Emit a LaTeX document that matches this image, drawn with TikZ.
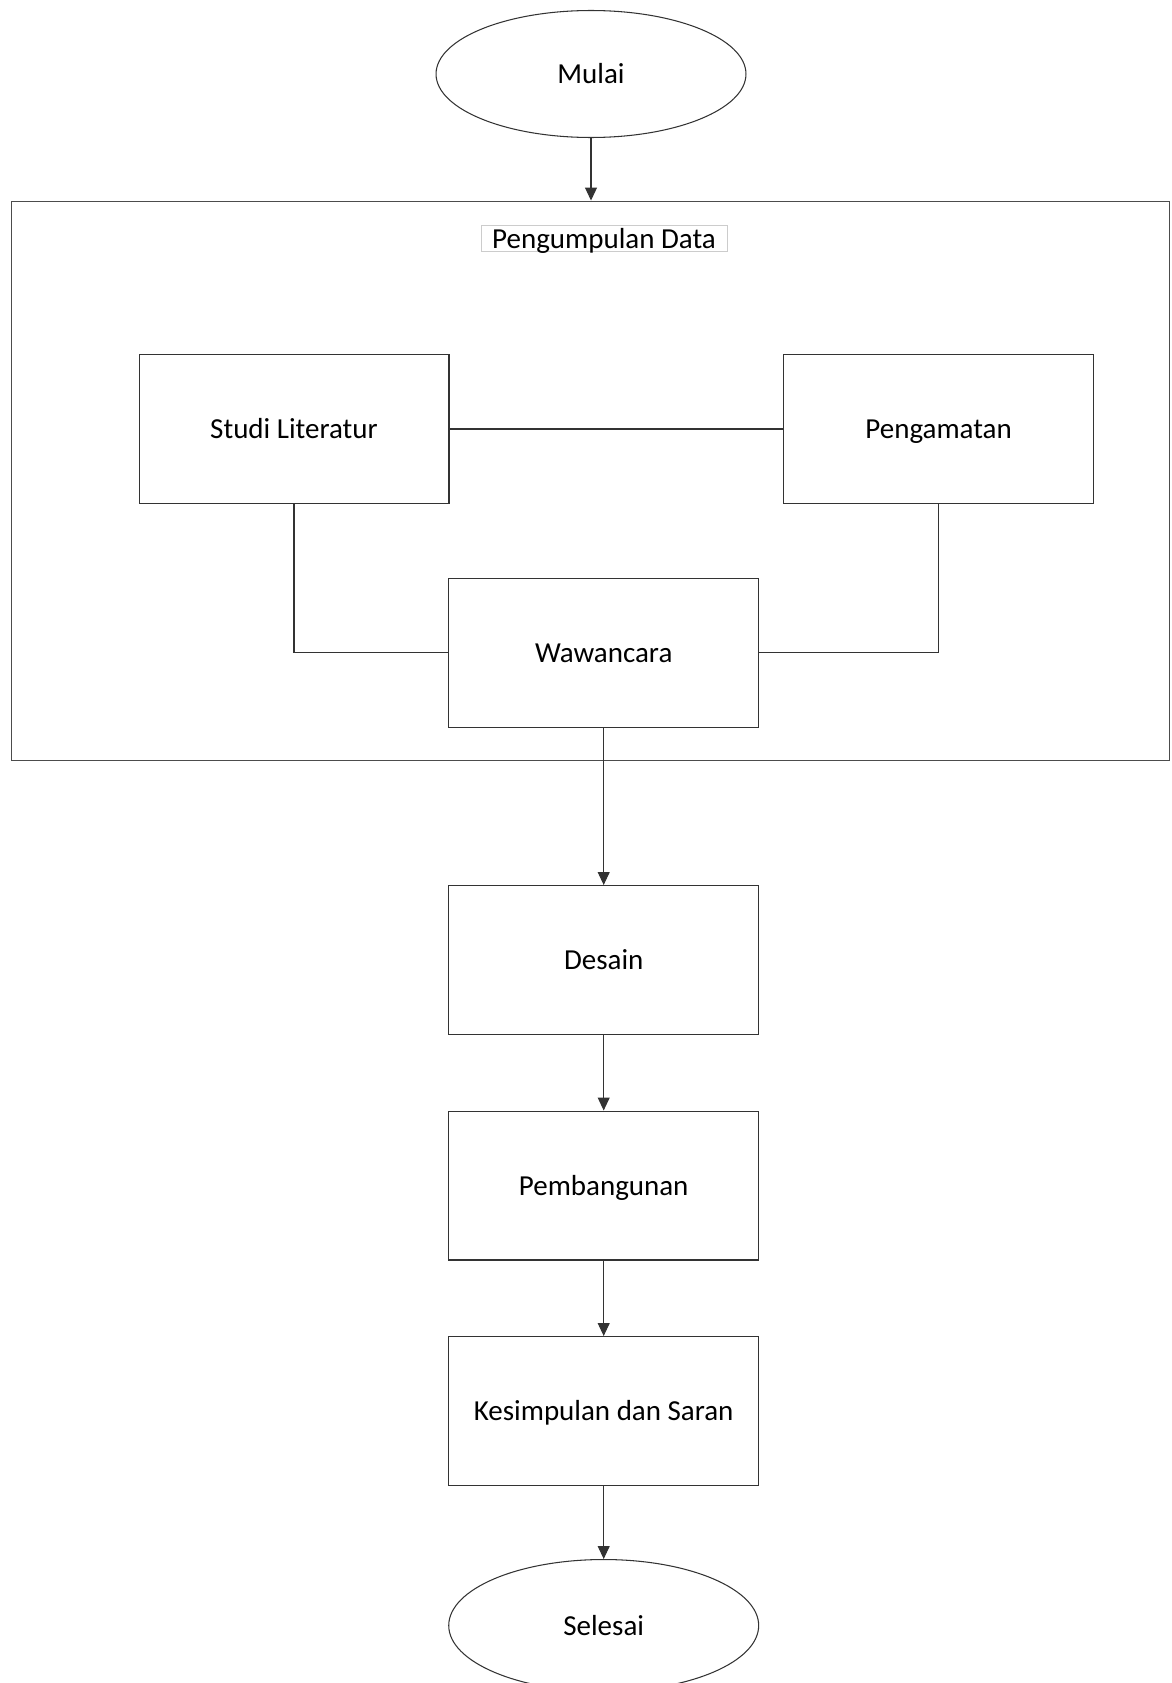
\documentclass[tikz,border=0pt]{standalone}
\usepackage{fontspec}
\setmainfont{Carlito}
\usetikzlibrary{arrows.meta, shapes.geometric}

\tikzset{
  teks/.style={text height=13pt, text depth=1.8pt},
  kotak/.style={draw=black!80, line width=0.6pt, minimum width=6.2cm, minimum height=2.98cm, teks},
  oval/.style={draw=black!80, line width=0.6pt, ellipse, minimum width=6.2cm, minimum height=2.6cm, teks},
  garis/.style={draw=black!80, line width=0.6pt},
  panah/.style={garis, -{Triangle[width=0.24cm, length=0.26cm]}}
}

\begin{document}
\begin{tikzpicture}[x=0.02cm, y=-0.02cm, font=\fontsize{16.5}{19}\selectfont]
  \useasboundingbox (0,0) rectangle (1172,1683);
  % tahap pengumpulan data
  \node[oval, minimum height=2.54cm] (mulai) at (591,74) {Mulai};
  \node[draw=black!70, line width=0.6pt, minimum width=23.18cm, minimum height=11.2cm] (kumpul) at (590.5,481) {};
  \node[draw=black!20, line width=0.5pt, minimum width=4.92cm, minimum height=0.52cm, inner sep=0pt, text height=13.1pt, text depth=1.6pt] (judul) at (604,238) {Pengumpulan Data};
  \node[kotak] (studi) at (294,429) {Studi Literatur};
  \node[kotak] (amat) at (938.6,429) {Pengamatan};
  \node[kotak] (wawan) at (603.7,652.6) {Wawancara};
  % tahap berikutnya
  \node[kotak] (desain) at (603.7,960) {Desain};
  \node[kotak] (bangun) at (603.7,1185.5) {Pembangunan};
  \node[kotak] (simpul) at (603.7,1411) {Kesimpulan dan Saran};
  \node[oval, minimum height=2.64cm] (selesai) at (603.7,1625.5) {Selesai};

  \draw[panah] (mulai.south) -- (mulai.south |- kumpul.north);
  \draw[garis] (studi.east) -- (amat.west);
  \draw[garis] (studi.south) |- (wawan.west);
  \draw[garis] (amat.south) |- (wawan.east);
  \draw[panah] (wawan.south) -- (desain.north);
  \draw[panah] (desain.south) -- (bangun.north);
  \draw[panah] (bangun.south) -- (simpul.north);
  \draw[panah] (simpul.south) -- (selesai.north);
\end{tikzpicture}
\end{document}
